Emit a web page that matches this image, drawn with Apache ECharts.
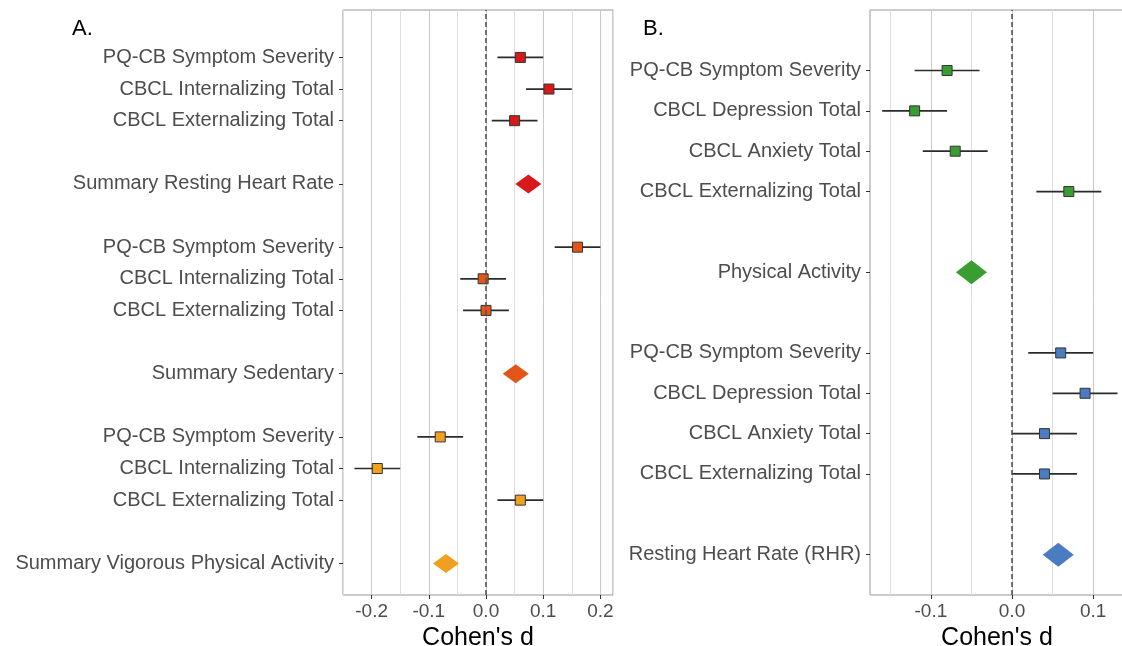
<!DOCTYPE html>
<html>
<head>
<meta charset="utf-8">
<script src="https://cdn.jsdelivr.net/npm/echarts@6/dist/echarts.min.js"></script>
<style>
  html, body { margin: 0; padding: 0; background: #fff; }
  #forest { width: 1122px; height: 646px; }
</style>
</head>
<body>
<div id="forest"></div>
<script>
// Panel A: rows listed top to bottom, '' = empty row between blocks
var labelsA = ['PQ-CB Symptom Severity', 'CBCL Internalizing Total', 'CBCL Externalizing Total', '',
               'Summary Resting Heart Rate', '',
               'PQ-CB Symptom Severity', 'CBCL Internalizing Total', 'CBCL Externalizing Total', '',
               'Summary Sedentary', '',
               'PQ-CB Symptom Severity', 'CBCL Internalizing Total', 'CBCL Externalizing Total', '',
               'Summary Vigorous Physical Activity'];
var estA  = [0.06, 0.11, 0.05, null, 0.074, null, 0.16, -0.005, 0.0, null, 0.052, null, -0.08, -0.19, 0.06, null, -0.07];
var lowA  = [0.02, 0.07, 0.01, null, null, null, 0.12, -0.045, -0.04, null, null, null, -0.12, -0.23, 0.02, null, null];
var highA = [0.10, 0.15, 0.09, null, null, null, 0.20, 0.035, 0.04, null, null, null, -0.04, -0.15, 0.10, null, null];
var groupA = [0, 0, 0, null, 0, null, 1, 1, 1, null, 1, null, 2, 2, 2, null, 2];

// Panel B
var labelsB = ['PQ-CB Symptom Severity', 'CBCL Depression Total', 'CBCL Anxiety Total', 'CBCL Externalizing Total', '',
               'Physical Activity', '',
               'PQ-CB Symptom Severity', 'CBCL Depression Total', 'CBCL Anxiety Total', 'CBCL Externalizing Total', '',
               'Resting Heart Rate (RHR)'];
var estB  = [-0.08, -0.12, -0.07, 0.07, null, -0.05, null, 0.06, 0.09, 0.04, 0.04, null, 0.057];
var lowB  = [-0.12, -0.16, -0.11, 0.03, null, null, null, 0.02, 0.05, 0.00, 0.00, null, null];
var highB = [-0.04, -0.08, -0.03, 0.11, null, null, null, 0.10, 0.13, 0.08, 0.08, null, null];
var groupB = [0, 0, 0, 0, null, 0, null, 1, 1, 1, 1, null, 1];

var xTicks = [-0.2, -0.1, 0.0, 0.1, 0.2];
var xTicksB = [-0.1, 0.0, 0.1];

var colorsA = ['#d7191c', '#e2561a', '#f0a020'];
var colorsB = ['#3a9d32', '#4a7cc2'];

function buildPanel(labels, est, low, high, group, colors) {
    var n = labels.length;
    var names = {}, slots = [], bars = [], diamonds = [];
    for (var i = 0; i < n; i++) {
        var slot = n - 1 - i;
        if (labels[i] === '') continue;
        names[slot] = labels[i];
        slots.push(slot);
        var col = colors[group[i]];
        if (low[i] === null) {
            diamonds.push({ value: [est[i], slot], itemStyle: { color: col, opacity: 1 } });
        } else {
            bars.push({ value: [slot, low[i], high[i], est[i]], itemStyle: { color: col } });
        }
    }
    return { names: names, slots: slots, bars: bars, diamonds: diamonds };
}

var pA = buildPanel(labelsA, estA, lowA, highA, groupA, colorsA);
var pB = buildPanel(labelsB, estB, lowB, highB, groupB, colorsB);

function renderBar(params, api) {
    var y = api.value(0);
    var lo = api.coord([api.value(1), y]);
    var hi = api.coord([api.value(2), y]);
    var c = api.coord([api.value(3), y]);
    return {
        type: 'group',
        children: [
            { type: 'line', shape: { x1: lo[0], y1: lo[1], x2: hi[0], y2: hi[1] },
              style: { stroke: '#2b2b2b', lineWidth: 1.7 } },
            { type: 'rect', shape: { x: c[0] - 5, y: c[1] - 5, width: 10, height: 10 },
              style: { fill: api.visual('color'), stroke: '#333', lineWidth: 1 } }
        ]
    };
}

var labelFont = 'Liberation Sans, Arial, sans-serif';

function mainX(gridIndex, min, max, ticks) {
    return {
        type: 'value', gridIndex: gridIndex, min: min, max: max,
        name: "Cohen's d", nameLocation: 'middle', nameGap: 28,
        nameTextStyle: { color: '#000', fontSize: 25, fontFamily: labelFont },
        axisLine: { show: false, onZero: false },
        axisTick: { show: true, customValues: ticks, length: 4, lineStyle: { color: '#333' } },
        axisLabel: { customValues: ticks, margin: 7, color: '#4d4d4d', fontSize: 19, fontFamily: labelFont,
                     formatter: function (v) { return v.toFixed(1); } },
        splitLine: { show: false }
    };
}

function gridX(gridIndex, min, max, interval, lineColors) {
    return {
        type: 'value', gridIndex: gridIndex, min: min, max: max, interval: interval,
        axisLine: { show: false, onZero: false }, axisTick: { show: false }, axisLabel: { show: false },
        splitLine: { show: true, lineStyle: { color: lineColors, width: 1 } }
    };
}

function makeY(gridIndex, max, panel) {
    return {
        type: 'value', gridIndex: gridIndex, min: -1, max: max,
        axisLine: { show: false, onZero: false },
        splitLine: { show: false },
        axisTick: { show: true, customValues: panel.slots, length: 4, lineStyle: { color: '#333' } },
        axisLabel: { customValues: panel.slots, margin: 9, color: '#4d4d4d', fontSize: 20, fontFamily: labelFont,
                     formatter: function (v) { return panel.names[v] || ''; } }
    };
}

var minor = '#dedede', major = '#c9c9c9', none = 'rgba(0,0,0,0)';

var chart = echarts.init(document.getElementById('forest'));
var option = {
    backgroundColor: '#fff',
    animation: false,
    title: [
        { text: 'A.', left: 67, top: 13, textStyle: { color: '#000', fontSize: 22, fontWeight: 'normal', fontFamily: labelFont } },
        { text: 'B.', left: 638, top: 13, textStyle: { color: '#000', fontSize: 22, fontWeight: 'normal', fontFamily: labelFont } }
    ],
    grid: [
        { left: 343, top: 10, width: 270, height: 585, outerBoundsMode: 'none',
          show: true, backgroundColor: '#fff', borderColor: '#999', borderWidth: 1 },
        { left: 870, top: 10, width: 254, height: 585, outerBoundsMode: 'none',
          show: true, backgroundColor: '#fff', borderColor: '#999', borderWidth: 1 }
    ],
    xAxis: [
        mainX(0, -0.25, 0.222, xTicks),
        gridX(0, -0.25, 0.222, 0.05, [minor, major]),
        mainX(1, -0.175, 0.138, xTicksB),
        gridX(1, -0.175, 0.138, 0.025, [none, minor, none, major])
    ],
    yAxis: [
        makeY(0, 17.5, pA),
        makeY(1, 13.5, pB)
    ],
    series: [
        { type: 'line', xAxisIndex: 0, yAxisIndex: 0, data: [], z: 1,
          markLine: { silent: true, symbol: 'none', label: { show: false },
                      lineStyle: { type: [5, 3], color: '#555', width: 1.6 }, data: [{ xAxis: 0 }] } },
        { type: 'line', xAxisIndex: 2, yAxisIndex: 1, data: [], z: 1,
          markLine: { silent: true, symbol: 'none', label: { show: false },
                      lineStyle: { type: [5, 3], color: '#555', width: 1.6 }, data: [{ xAxis: 0 }] } },
        { type: 'custom', xAxisIndex: 0, yAxisIndex: 0, renderItem: renderBar, data: pA.bars,
          encode: { x: [1, 2, 3], y: 0 }, z: 3 },
        { type: 'custom', xAxisIndex: 2, yAxisIndex: 1, renderItem: renderBar, data: pB.bars,
          encode: { x: [1, 2, 3], y: 0 }, z: 3 },
        { type: 'scatter', xAxisIndex: 0, yAxisIndex: 0, symbol: 'diamond', symbolSize: [26, 19],
          itemStyle: { opacity: 1 }, data: pA.diamonds, z: 3 },
        { type: 'scatter', xAxisIndex: 2, yAxisIndex: 1, symbol: 'diamond', symbolSize: [31, 24],
          itemStyle: { opacity: 1 }, data: pB.diamonds, z: 3 }
    ]
};
chart.setOption(option);
</script>
</body>
</html>
